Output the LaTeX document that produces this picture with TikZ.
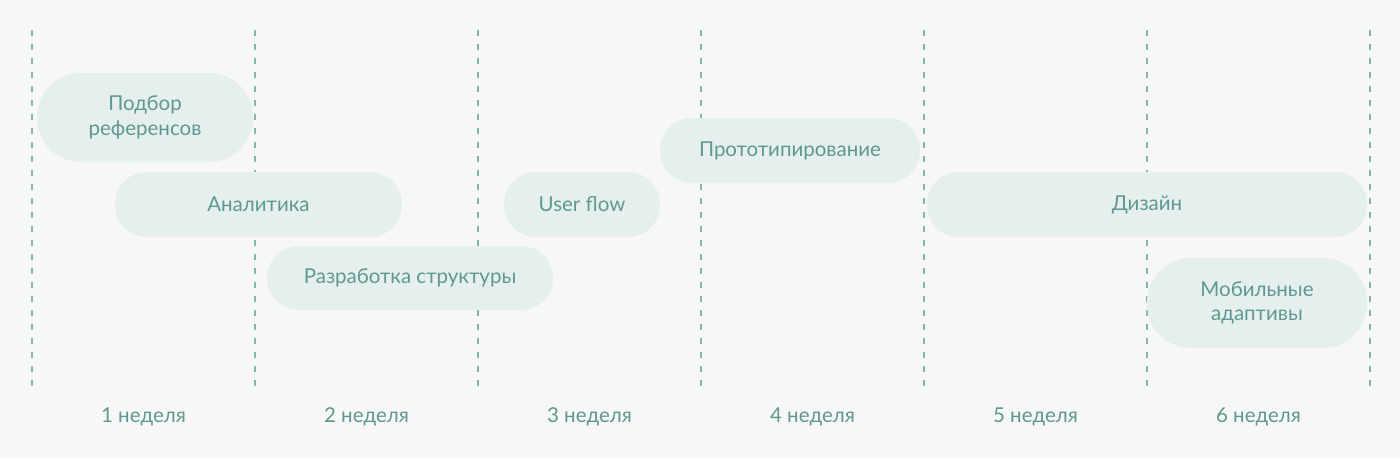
\documentclass[tikz,border=0pt]{standalone}
\usepackage{fontspec}
\setmainfont{Lato}
\definecolor{bgc}{HTML}{F7F7F7}
\definecolor{pillc}{HTML}{E5EFEE}
\definecolor{txtc}{HTML}{5F9892}
\definecolor{linec}{HTML}{80B7B0}
\begin{document}
\begin{tikzpicture}[x=1pt,y=-1pt,
  pill/.style={fill=pillc, rounded corners=32pt, inner sep=0pt, text=txtc,
    font=\fontsize{20.5}{24.5}\selectfont, align=center},
  weeklbl/.style={text=txtc, font=\fontsize{20.5}{24.5}\selectfont, inner sep=0pt},
  sep/.style={draw=linec, line width=2.8pt, dash pattern=on 6pt off 8pt}]
\fill[bgc] (0,0) rectangle (1400,458);
\useasboundingbox (0,0) rectangle (1400,458);
% separators
\foreach \i/\x in {0/32,1/255,2/478,3/701,4/924,5/1147,6/1370}{
  \coordinate (t\i) at (\x,30);
  \coordinate (b\i) at (\x,393);
  \draw[sep] (t\i) -- (b\i);
}
% pills
\node[pill, minimum width=216pt, minimum height=89pt, rounded corners=44pt] (p1) at (145,117.5) {Подбор\\референсов};
\node[pill, minimum width=287pt, minimum height=65pt] (p2) at (258.5,204.5) {Аналитика};
\node[pill, minimum width=286pt, minimum height=64pt] (p3) at (410,278) {Разработка структуры};
\node[pill, minimum width=156pt, minimum height=65pt] (p4) at (582,204.5) {User flow};
\node[pill, minimum width=260pt, minimum height=65pt] (p5) at (790,150.5) {Прототипирование};
\node[pill, minimum width=440pt, minimum height=65pt] (p6) at (1147,204.5) {Дизайн};
\node[pill, minimum width=220pt, minimum height=90pt, rounded corners=44pt] (p7) at (1257,303) {Мобильные\\адаптивы};
% week labels
\node[weeklbl] (w1) at (143.5,416.5) {1 неделя};
\node[weeklbl] (w2) at (366.5,416.5) {2 неделя};
\node[weeklbl] (w3) at (589.5,416.5) {3 неделя};
\node[weeklbl] (w4) at (812.5,416.5) {4 неделя};
\node[weeklbl] (w5) at (1035.5,416.5) {5 неделя};
\node[weeklbl] (w6) at (1258.5,416.5) {6 неделя};
\end{tikzpicture}
\end{document}
